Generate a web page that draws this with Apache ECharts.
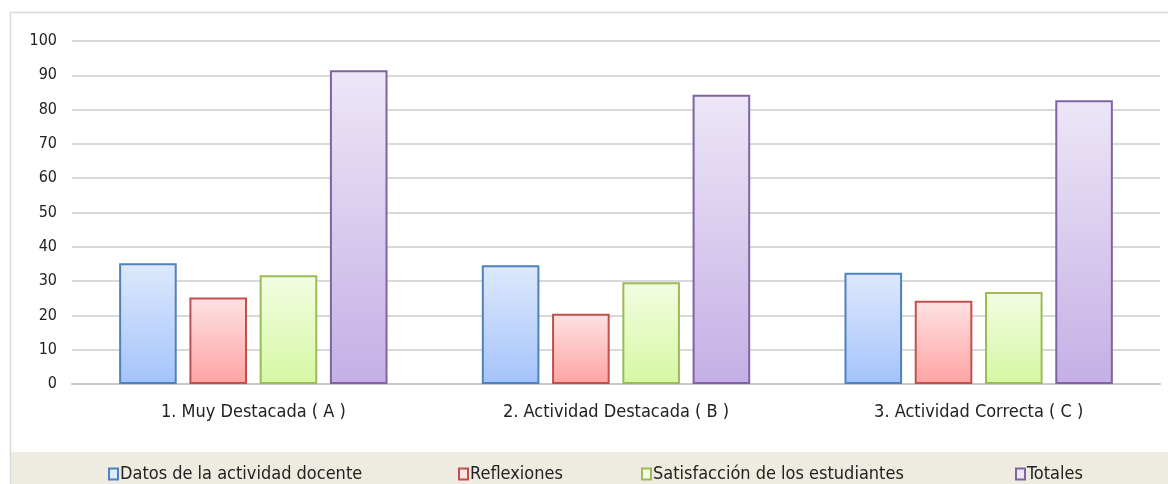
<!DOCTYPE html>
<html>
<head>
<meta charset="utf-8">
<script src="https://cdn.jsdelivr.net/npm/echarts@6/dist/echarts.min.js"></script>
<style>
  html, body { margin: 0; padding: 0; background: #fff; }
  #main { width: 1168px; height: 484px; }
</style>
</head>
<body>
<div id="main"></div>
<script>
var categories = ['1. Muy Destacada ( A )', '2. Actividad Destacada ( B )', '3. Actividad Correcta ( C )'];
var seriesNames = ['Datos de la actividad docente', 'Reflexiones', 'Satisfacción de los estudiantes', 'Totales'];
var datosValues = [35.2, 34.6, 32.4];
var reflexionesValues = [25.2, 20.5, 24.3];
var satisfaccionValues = [31.7, 29.7, 26.8];
var totalesValues = [91.5, 84.3, 82.7];

var FONT = '"DejaVu Sans Condensed", "DejaVu Sans", sans-serif';

// top colour, bottom colour, border colour
var palette = [
    ['#dde9fc', '#a5c3fb', '#4f81bd'],
    ['#fde2e2', '#ffa3a3', '#c0504d'],
    ['#f3fce2', '#d5f8a3', '#9bbb59'],
    ['#ede6f7', '#c4b0e5', '#8064a2']
];
var allValues = [datosValues, reflexionesValues, satisfaccionValues, totalesValues];

function grad(p) {
    return new echarts.graphic.LinearGradient(0, 0, 0, 1, [
        { offset: 0, color: p[0] },
        { offset: 1, color: p[1] }
    ]);
}

var series = seriesNames.map(function (name, i) {
    return {
        name: name,
        type: 'bar',
        data: allValues[i],
        barGap: '22%',
        barCategoryGap: '26%',
        itemStyle: {
            color: grad(palette[i]),
            borderColor: palette[i][2],
            borderWidth: 2
        }
    };
});

var legendLefts = [103, 453, 636, 1010];
var legends = seriesNames.map(function (name, i) {
    return {
        data: [{ name: name, itemStyle: { color: palette[i][0], borderColor: palette[i][2], borderWidth: 2 } }],
        left: legendLefts[i],
        top: 460,
        icon: 'rect',
        itemWidth: 9,
        itemHeight: 11,
        itemGap: 4,
        selectedMode: false,
        textStyle: { fontFamily: FONT, fontSize: 18, color: '#222', padding: [0, 0, 0, -3] }
    };
});

var chart = echarts.init(document.getElementById('main'));
var option = {
    animation: false,
    backgroundColor: '#ffffff',
    graphic: [
        {
            type: 'rect',
            z: -10,
            shape: { x: 10.5, y: 12.5, width: 1170, height: 480 },
            style: { fill: '#ffffff', stroke: '#d9d9d9', lineWidth: 1.5 }
        },
        {
            type: 'rect',
            z: -9,
            shape: { x: 11, y: 452, width: 1170, height: 40 },
            style: { fill: '#eeece1' }
        }
    ],
    legend: legends,
    grid: { left: 72, right: 8, top: 41, bottom: 100 },
    xAxis: {
        type: 'category',
        data: categories,
        axisTick: { show: false },
        axisLine: { lineStyle: { color: '#c8c8c8', width: 2 } },
        axisLabel: { fontFamily: FONT, fontSize: 18, color: '#222', margin: 19 }
    },
    yAxis: {
        type: 'value',
        min: 0,
        max: 100,
        interval: 10,
        axisLine: { show: false },
        axisTick: { show: false },
        splitLine: { lineStyle: { color: '#d9d9d9', width: 2 } },
        axisLabel: { fontFamily: FONT, fontSize: 16, color: '#222', margin: 15 }
    },
    series: series
};
chart.setOption(option);
</script>
</body>
</html>
